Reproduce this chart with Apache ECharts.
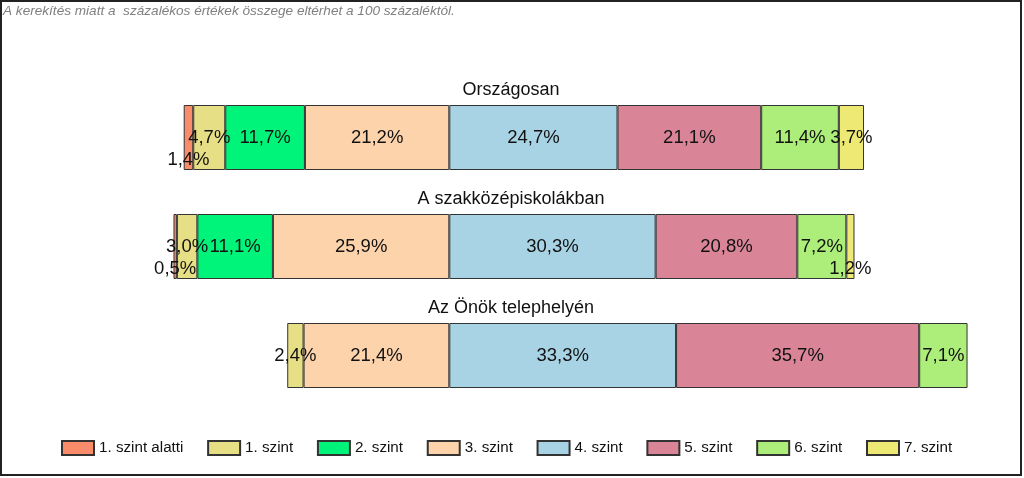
<!DOCTYPE html>
<html>
<head>
<meta charset="utf-8">
<script src="https://cdn.jsdelivr.net/npm/echarts@6/dist/echarts.min.js"></script>
<style>
html,body{margin:0;padding:0;background:#fff;}
#c{width:1024px;height:478px;}
</style>
</head>
<body>
<div id="c"></div>
<script>
const categories = ['Országosan', 'A szakközépiskolákban', 'Az Önök telephelyén'];
const levels = ['1. szint alatti', '1. szint', '2. szint', '3. szint', '4. szint', '5. szint', '6. szint', '7. szint'];
const colors = ['#F98D6B', '#E7DF85', '#00F47A', '#FDD3AC', '#A7D3E4', '#D98497', '#ACEE79', '#EEE874'];
const lvl0 = [1.4, 0.5, 0];
const lvl1 = [4.7, 3.0, 2.4];
const lvl2 = [11.7, 11.1, 0];
const lvl3 = [21.2, 25.9, 21.4];
const lvl4 = [24.7, 30.3, 33.3];
const lvl5 = [21.1, 20.8, 35.7];
const lvl6 = [11.4, 7.2, 7.1];
const lvl7 = [3.7, 1.2, 0];
const note = 'A kerekítés miatt a  százalékos értékek összege eltérhet a 100 százaléktól.';

const allData = [lvl0, lvl1, lvl2, lvl3, lvl4, lvl5, lvl6, lvl7];
const FONT = 'Liberation Sans, Arial, sans-serif';

function fmt(v){ return Math.abs(v).toFixed(1).replace('.', ',') + '%'; }

function makeSeries(idx, negative){
  const vals = allData[idx];
  return {
    name: levels[idx],
    type: 'bar',
    stack: 'total',
    barWidth: 65,
    itemStyle: { color: colors[idx], borderColor: '#333', borderWidth: 1 },
    label: {
      show: true,
      position: 'inside',
      color: '#111',
      fontFamily: FONT,
      fontSize: 18.5,
      formatter: p => fmt(p.value)
    },
    data: vals.map(v => {
      if (v === 0) return { value: null };
      const d = { value: negative ? -v : v };
      if (v < 2) d.label = { offset: [0, 22] };
      return d;
    })
  };
}

const series = [
  makeSeries(3, true), makeSeries(2, true), makeSeries(1, true), makeSeries(0, true),
  makeSeries(4, false), makeSeries(5, false), makeSeries(6, false), makeSeries(7, false)
];

const chart = echarts.init(document.getElementById('c'));
chart.setOption({
  animation: false,
  backgroundColor: '#fff',
  grid: { left: 40.7, right: 29.9, top: 83, height: 327 },
  xAxis: { type: 'value', min: -60, max: 80, show: false },
  yAxis: { type: 'category', data: categories, inverse: true, show: false },
  legend: {
    data: levels,
    left: 61, top: 440,
    padding: 0,
    icon: 'rect',
    itemWidth: 32, itemHeight: 14,
    itemGap: 23.7,
    textStyle: { fontFamily: FONT, fontSize: 15.2, color: '#111' }
  },
  series: series
});

const titleX = 511;
const gfx = [
  { type: 'rect', shape: { x: 1, y: 1, width: 1020, height: 474 }, style: { fill: 'none', stroke: '#222', lineWidth: 2 }, silent: true },
  { type: 'text', x: 3, y: 4, style: { text: note, font: 'italic 13.6px ' + FONT, fill: '#808080' } }
];
categories.forEach(c => {
  const y = chart.convertToPixel({ yAxisIndex: 0 }, c);
  gfx.push({ type: 'text', x: titleX, y: y - 47, style: { text: c, font: '18px ' + FONT, fill: '#111', align: 'center', verticalAlign: 'middle' } });
});
chart.setOption({ graphic: gfx });
</script>
</body>
</html>
